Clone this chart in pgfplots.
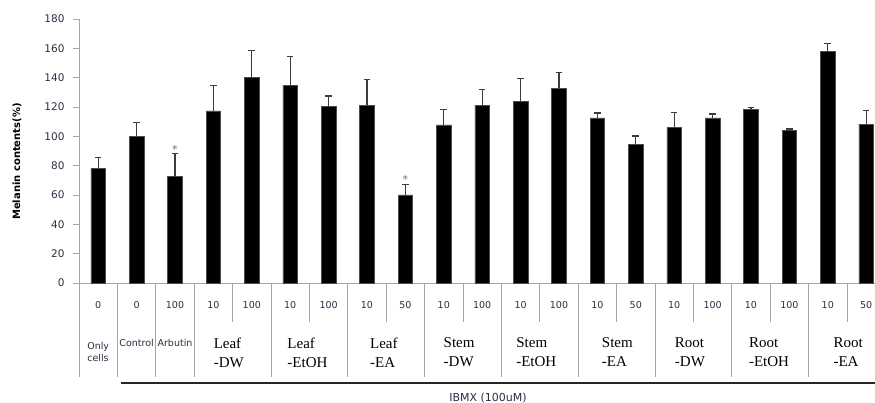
\documentclass[border=0pt]{standalone}
\usepackage{fontspec}
\setmainfont{DejaVu Sans}
\newfontfamily\serifx{Liberation Serif}
\usepackage{pgfplots}
\pgfplotsset{compat=1.18}
\definecolor{axgray}{RGB}{166,166,166}
\definecolor{txt}{RGB}{45,45,65}
\definecolor{errc}{RGB}{60,60,60}
\pgfplotstableread{
x y e
0 78 7.7
1 100 9.6
2 72.6 15.7
3 117.3 17.4
4 140.2 18.2
5 134.8 19.4
6 120.3 7.2
7 121.2 17.5
8 60 7.4
9 107.8 10.3
10 121.2 10.8
11 124 15.5
12 132.7 10.9
13 112.5 3.4
14 94.3 5.9
15 106 10
16 112.5 2.7
17 118.6 1.1
18 103.9 1.1
19 157.7 5.6
20 108.4 9.5
}\datatable
\begin{document}
\begin{tikzpicture}
\begin{axis}[
  at={(0,0)}, anchor=south west,
  scale only axis, width=796pt, height=264pt,
  xmin=-0.5, xmax=20.23, ymin=0, ymax=180,
  axis x line*=bottom, axis y line*=left,
  axis line style={axgray, line width=0.8pt, -},
  xtick=\empty,
  ytick={0,20,...,180},
  tick align=outside, major tick length=6pt,
  tick style={axgray, line width=0.8pt},
  yticklabel style={font=\fontsize{10.5}{12}\selectfont, text=txt, xshift=-5pt},
  /pgf/number format/assume math mode=true,
  ylabel={Melanin contents(\%)},
  ylabel style={font=\bfseries\fontsize{10}{12}\selectfont, text=black, at={(axis description cs:-0.0779,0.46)}, anchor=center},
  ybar, bar width=0.38,
  clip=false,
]
\addplot[fill=black, draw=black!70, line width=0.5pt,
  error bars/.cd, y dir=plus, y explicit,
  error bar style={errc, line width=1.1pt},
  error mark options={rotate=90, errc, mark size=3.3pt, line width=1.1pt}]
  table[x=x, y=y, y error=e] {\datatable};

% separators
\pgfplotsinvokeforeach{-0.5,0.5,1.5,2.5,4.5,6.5,8.5,10.5,12.5,14.5,16.5,18.5}{
  \draw[axgray, line width=0.8pt] (axis cs:#1,0) -- (axis cs:#1,-64.1);
}
\pgfplotsinvokeforeach{3.5,5.5,7.5,9.5,11.5,13.5,15.5,17.5,19.5}{
  \draw[axgray, line width=0.8pt] (axis cs:#1,0) -- (axis cs:#1,-26.6);
}
% dose numbers
\begin{scope}[every node/.style={font=\fontsize{9.5}{11}\selectfont, text=txt}]
\node at (axis cs:0,-15) {0};
\node at (axis cs:1,-15) {0};
\node at (axis cs:2,-15) {100};
\node at (axis cs:3,-15) {10};
\node at (axis cs:4,-15) {100};
\node at (axis cs:5,-15) {10};
\node at (axis cs:6,-15) {100};
\node at (axis cs:7,-15) {10};
\node at (axis cs:8,-15) {50};
\node at (axis cs:9,-15) {10};
\node at (axis cs:10,-15) {100};
\node at (axis cs:11,-15) {10};
\node at (axis cs:12,-15) {100};
\node at (axis cs:13,-15) {10};
\node at (axis cs:14,-15) {50};
\node at (axis cs:15,-15) {10};
\node at (axis cs:16,-15) {100};
\node at (axis cs:17,-15) {10};
\node at (axis cs:18,-15) {100};
\node at (axis cs:19,-15) {10};
\node at (axis cs:20,-15) {50};
\end{scope}
% sans group labels
\begin{scope}[every node/.style={font=\fontsize{9.5}{12}\selectfont, text=txt, inner sep=0pt}]
\node[align=left] at (axis cs:0,-46.7) {Only\\cells};
\node at (axis cs:1,-40.9) {Control};
\node at (axis cs:2,-40.9) {Arbutin};
\end{scope}
% serif group labels
\begin{scope}[every node/.style={font=\serifx\fontsize{15}{19}\selectfont, text=black, align=left, inner sep=0pt}]
\node at (axis cs:3.40,-47.4) {Leaf\\-DW};
\node at (axis cs:5.45,-47.4) {Leaf\\-EtOH};
\node at (axis cs:7.44,-47.4) {Leaf\\-EA};
\node at (axis cs:9.40,-47.4) {Stem\\-DW};
\node at (axis cs:11.41,-47.4) {Stem\\-EtOH};
\node at (axis cs:13.52,-47.4) {Stem\\-EA};
\node at (axis cs:15.41,-47.4) {Root\\-DW};
\node at (axis cs:17.47,-47.4) {Root\\-EtOH};
\node at (axis cs:19.53,-47.4) {Root\\-EA};
\end{scope}
\draw[black!85, line width=2pt] (axis cs:0.594,-68.2) -- (axis cs:20.4,-68.2);
\node[font=\fontsize{11}{13}\selectfont, text=txt] at (axis cs:10.15,-78.4) {IBMX (100uM)};
% significance marks
\node[font=\fontsize{11}{13}\selectfont, text=black!55] at (axis cs:2,91.4) {*};
\node[font=\fontsize{11}{13}\selectfont, text=black!55] at (axis cs:8,70.6) {*};
\end{axis}
\pgfresetboundingbox
\path[use as bounding box] (-79pt,-120pt) rectangle (796pt,283pt);
\end{tikzpicture}
\end{document}
